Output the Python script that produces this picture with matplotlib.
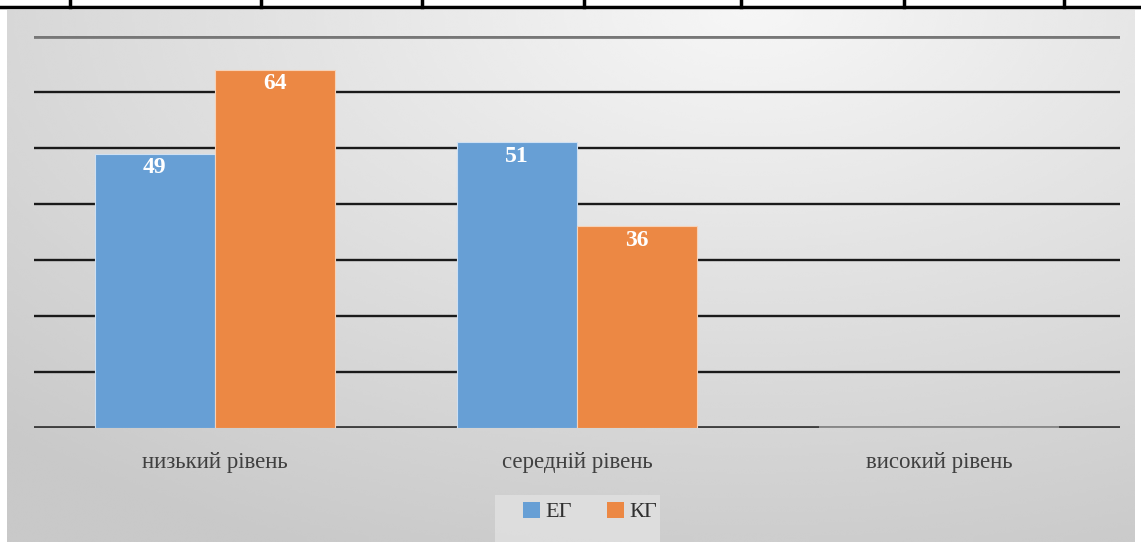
import matplotlib.pyplot as plt
import numpy as np
from matplotlib.patches import Patch

# Data
categories = ['низький рівень', 'середній рівень', 'високий рівень']
eg_values = [49, 51, 0]
kg_values = [64, 36, 0]
series_names = ['ЕГ', 'КГ']

blue = '#679fd5'
orange = '#ec8844'

plt.rcParams['font.family'] = ['Liberation Serif', 'DejaVu Serif']

W, H = 1141, 542
fig = plt.figure(figsize=(W / 100, H / 100), dpi=100)
fig.patch.set_facecolor('white')

# table border lines at the top of the picture
line_ax = fig.add_axes([0, 0, 1, 1])
line_ax.set_xlim(0, W)
line_ax.set_ylim(H, 0)
line_ax.axis('off')
line_ax.plot([0, W], [7, 7], color='black', linewidth=2.5)
for xv in [70, 261, 422, 584, 741, 904, 1064]:
    line_ax.plot([xv, xv], [0, 7], color='black', linewidth=2.5)

# gradient chart background
bg_ax = fig.add_axes([7 / W, 0, (1135 - 7) / W, 1 - 10 / H])
yy, xx = np.mgrid[0:1:200j, 0:1:400j]
dist = np.sqrt(((xx - 0.66) * 1.15) ** 2 + ((yy - 0.0) * 1.0) ** 2)
shade = 0.965 - 0.16 * np.clip(dist, 0, 1.1)
bg_ax.imshow(shade, cmap='gray', vmin=0, vmax=1, aspect='auto',
             extent=[0, 1, 1, 0], interpolation='bicubic')
bg_ax.axis('off')

# main plot
ax = fig.add_axes([34 / W, 1 - 428 / H, (1120 - 34) / W, (428 - 36) / H])
ax.patch.set_alpha(0)
x = np.arange(len(categories))
bw = 0.332

for yv in range(10, 70, 10):
    ax.axhline(yv, color='#1a1a1a', linewidth=1.7, zorder=1)
ax.axhline(70, color='#777777', linewidth=3.4, zorder=1)

b1 = ax.bar(x - bw / 2, eg_values, bw, color=blue, edgecolor='#cfe0f2',
            linewidth=0.8, zorder=3)
b2 = ax.bar(x + bw / 2, kg_values, bw, color=orange, edgecolor='#f6d2b8',
            linewidth=0.8, zorder=3)

ax.axhline(0, color='#404040', linewidth=2.8, zorder=2)
# zero-height bars show as a lighter segment on the baseline
for i, (a, b) in enumerate(zip(eg_values, kg_values)):
    if a == 0 and b == 0:
        ax.plot([x[i] - bw, x[i] + bw], [0, 0], color='#8c8c8c',
                linewidth=2.8, zorder=4, solid_capstyle='butt')

for bars, vals in [(b1, eg_values), (b2, kg_values)]:
    for rect, v in zip(bars, vals):
        if v > 0:
            ax.text(rect.get_x() + rect.get_width() / 2, v - 2.5, str(v),
                    ha='center', va='center', color='white',
                    fontsize=17, fontweight='bold', zorder=5)

ax.set_xlim(-0.5, len(categories) - 0.5)
ax.set_ylim(0, 70)
ax.set_xticks(x)
ax.set_xticklabels(categories, fontsize=16.5, color='#404040')
ax.tick_params(axis='x', length=0, pad=17)
ax.set_yticks([])
for s in ax.spines.values():
    s.set_visible(False)

# legend panel (slightly lighter box reaching the bottom edge)
line_ax.add_patch(plt.Rectangle((495, 495), 165, 50, facecolor='#e0e0e0',
                                edgecolor='none', alpha=0.85, zorder=0))
bg_ax.set_zorder(-1)

handles = [Patch(facecolor=blue), Patch(facecolor=orange)]
leg = fig.legend(handles, series_names, loc='center',
                 bbox_to_anchor=(590 / W, 1 - 512 / H), ncol=2,
                 frameon=False, fontsize=16, handlelength=0.75,
                 handleheight=0.75, handletextpad=0.25, columnspacing=1.6)
for t in leg.get_texts():
    t.set_color('#303030')

fig.savefig('out.png', dpi=100)
